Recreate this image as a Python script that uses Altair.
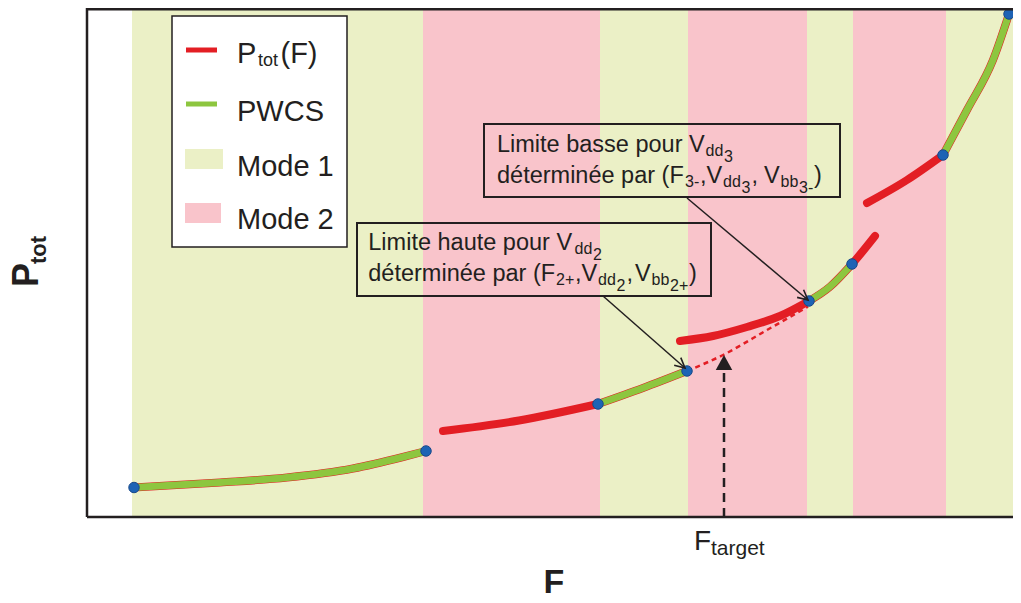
import altair as alt
import pandas as pd

# ---------------- data (arbitrary units) ----------------
F_MAX, P_MAX = 92.6, 50.9

band_start = [4.5, 33.6, 51.3, 60.1, 72.0, 76.6, 85.9]
band_end = [33.6, 51.3, 60.1, 72.0, 76.6, 85.9, 92.6]
band_mode = ["Mode 1", "Mode 2", "Mode 1", "Mode 2", "Mode 1", "Mode 2", "Mode 1"]

# breakpoints (blue dots)
dot_F = [4.7, 33.9, 51.1, 60.0, 72.2, 76.5, 85.6, 92.2]
dot_P = [2.95, 6.6, 11.3, 14.6, 21.6, 25.3, 36.2, 50.3]

# P_tot(F) segments (red)
ptot_seg = ["A"] * 6 + ["B"] * 3 + ["C"] * 3 + ["D"] * 5 + ["E"] * 4 + ["F"] * 3 + ["G"] * 4
ptot_F = [4.7, 13.3, 20.0, 26.6, 31.6, 33.9,
          35.6, 43.2, 51.1,
          51.1, 55.6, 60.0,
          59.3, 62.6, 66.0, 69.3, 72.2,
          72.2, 74.3, 76.5, 78.8,
          78.0, 82.0, 85.6,
          85.6, 88.0, 90.6, 92.2]
ptot_P = [2.95, 3.45, 3.95, 4.85, 6.0, 6.6,
          8.6, 9.65, 11.3,
          11.3, 12.9, 14.6,
          17.6, 18.1, 19.0, 20.1, 21.6,
          21.6, 23.03, 25.3, 28.1,
          31.4, 33.7, 36.2,
          36.2, 40.7, 45.7, 50.3]

# PWCS segments (green)
pwcs_seg = ["A"] * 6 + ["C"] * 3 + ["E"] * 3 + ["G"] * 4
pwcs_F = [4.7, 13.3, 20.0, 26.6, 31.6, 33.9,
          51.1, 55.6, 60.0,
          72.2, 74.3, 76.5,
          85.6, 88.0, 90.6, 92.2]
pwcs_P = [2.95, 3.45, 3.95, 4.85, 6.0, 6.6,
          11.3, 12.9, 14.6,
          21.6, 23.03, 25.3,
          36.2, 40.7, 45.7, 50.3]

# dashed extrapolation of mode-1 curve up to F_target region
ext_F = [60.0, 63.6, 68.0, 72.1]
ext_P = [14.6, 16.2, 18.7, 21.03]

F_target = 63.7
F_target_P = 16.2

# text fragments: F, P, text, font size
txt_F = [15.0, 17.1, 19.35, 15.0, 15.0, 15.0,
         41.0, 61.85, 63.7,
         41.0, 59.8, 61.3, 63.6, 65.45, 66.45, 67.7, 69.35, 71.2, 72.7,
         28.13, 48.75, 50.6,
         28.13, 46.9, 48.8, 51.1, 52.95, 53.95, 54.8, 56.45, 58.3, 60.2,
         60.7, 62.4]
txt_P = [45.37, 45.15, 45.37, 39.63, 34.1, 28.77,
         36.5, 36.1, 35.55,
         33.4, 33.0, 33.4, 33.0, 32.45, 33.4, 33.4, 33.0, 32.45, 33.4,
         26.67, 26.27, 25.7,
         23.57, 23.17, 23.57, 23.17, 22.6, 23.57, 23.57, 23.17, 22.6, 23.57,
         -3.3, -3.8]
txt_s = ["P", "tot", "(F)", "PWCS", "Mode 1", "Mode 2",
         "Limite basse pour V", "dd", "3",
         "déterminée par (F", "3-", ",V", "dd", "3", ",", "V", "bb", "3-", ")",
         "Limite haute pour V", "dd", "2",
         "déterminée par (F", "2+", ",V", "dd", "2", ",", "V", "bb", "2+", ")",
         "F", "target"]
txt_fs = [29, 18, 29, 29, 29, 29,
          23.5, 16, 16,
          23.5, 16, 23.5, 16, 16, 23.5, 23.5, 16, 16, 23.5,
          23.5, 16, 16,
          23.5, 16, 23.5, 16, 16, 23.5, 23.5, 16, 16, 23.5,
          28, 21]

# annotation boxes (F1, F2, P1, P2)
box_F1 = [39.7, 27.0]
box_F2 = [75.3, 62.4]
box_P1 = [39.3, 29.4]
box_P2 = [32.0, 22.1]

# annotation arrows (start -> tip)
arr_F1 = [60.0, 51.6]
arr_P1 = [31.9, 22.1]
arr_F2 = [72.1, 59.8]
arr_P2 = [21.7, 14.9]
arr_ang = [40.1, 41.3]

RED = "#E31E24"
GREEN = "#8DC63F"
BAND1 = "#EBF0C6"
BAND2 = "#F9C4CB"
BLUE = "#1D63B5"
DARK = "#231F20"
FONT = "Liberation Sans"

XS = alt.Scale(domain=[0, F_MAX], nice=False, zero=False)
YS = alt.Scale(domain=[0, P_MAX], nice=False, zero=False)


def X(f):
    return alt.X(f, type="quantitative", scale=XS, axis=None)


def Y(f):
    return alt.Y(f, type="quantitative", scale=YS, axis=None)


mode_color = alt.Color("mode:N", scale=alt.Scale(domain=["Mode 1", "Mode 2"], range=[BAND1, BAND2]), legend=None)

bands = alt.Chart(pd.DataFrame({"f1": band_start, "f2": band_end, "mode": band_mode})).mark_rect().encode(
    x=X("f1"), x2="f2", color=mode_color)

frame = alt.Chart(pd.DataFrame({"f1": [0, 0, 0], "f2": [0, F_MAX, F_MAX],
                                "p1": [0, 0, P_MAX - 0.12], "p2": [P_MAX, 0, P_MAX - 0.12]})).mark_rule(
    color=DARK, strokeWidth=2.5).encode(x=X("f1"), x2="f2", y=Y("p1"), y2="p2")

ext = alt.Chart(pd.DataFrame({"F": ext_F, "P": ext_P})).mark_line(
    color=RED, strokeWidth=2.5, strokeDash=[5, 4], interpolate="monotone").encode(x=X("F"), y=Y("P"))

ptot = alt.Chart(pd.DataFrame({"seg": ptot_seg, "F": ptot_F, "P": ptot_P})).mark_line(
    color=RED, strokeWidth=8, strokeCap="round", interpolate="monotone").encode(
    x=X("F"), y=Y("P"), detail="seg:N")

pwcs = alt.Chart(pd.DataFrame({"seg": pwcs_seg, "F": pwcs_F, "P": pwcs_P})).mark_line(
    color=GREEN, strokeWidth=7, interpolate="monotone").encode(
    x=X("F"), y=Y("P"), detail="seg:N")

tgt = pd.DataFrame({"F": [F_target], "p0": [0], "p1": [F_target_P - 1.2], "tip": [F_target_P], "ang": [270]})
tgt_line = alt.Chart(tgt).mark_rule(color=DARK, strokeWidth=2.5, strokeDash=[9, 6]).encode(
    x=X("F"), y=Y("p0"), y2="p1")
tgt_head = alt.Chart(tgt).mark_point(shape="M0,0L-1,-0.55L-1,0.55Z", filled=True, size=900,
                                     color=DARK, opacity=1).encode(
    x=X("F"), y=Y("tip"), angle=alt.Angle("ang:Q", scale=None))

dots = alt.Chart(pd.DataFrame({"F": dot_F, "P": dot_P})).mark_circle(
    size=110, color=BLUE, opacity=1, stroke="#1A4A8A", strokeWidth=1).encode(x=X("F"), y=Y("P"))

boxes = alt.Chart(pd.DataFrame({"f1": box_F1, "f2": box_F2, "p1": box_P1, "p2": box_P2})).mark_rect(
    fill=None, fillOpacity=0, stroke=DARK, strokeWidth=2).encode(x=X("f1"), x2="f2", y=Y("p1"), y2="p2")

arr_df = pd.DataFrame({"f1": arr_F1, "p1": arr_P1, "f2": arr_F2, "p2": arr_P2, "ang": arr_ang})
arrows = alt.Chart(arr_df).mark_rule(color=DARK, strokeWidth=1.5).encode(
    x=X("f1"), y=Y("p1"), x2="f2", y2="p2")
heads = alt.Chart(arr_df).mark_point(shape="M-1,-0.5L0,0L-1,0.5", filled=False, size=400,
                                     color=DARK, strokeWidth=1.6, opacity=1).encode(
    x=X("f2"), y=Y("p2"), angle=alt.Angle("ang:Q", scale=None))

# legend
leg_box = alt.Chart(pd.DataFrame({"f1": [8.5], "f2": [26.0], "p1": [50.1], "p2": [27.0]})).mark_rect(
    fill="white", stroke=DARK, strokeWidth=1.5).encode(x=X("f1"), x2="f2", y=Y("p1"), y2="p2")
leg_red = alt.Chart(pd.DataFrame({"f1": [9.9], "f2": [13.0], "p": [46.7]})).mark_rule(
    strokeWidth=5, color=RED).encode(x=X("f1"), x2="f2", y=Y("p"))
leg_green = alt.Chart(pd.DataFrame({"f1": [9.9], "f2": [13.0], "p": [41.3]})).mark_rule(
    strokeWidth=5, color=GREEN).encode(x=X("f1"), x2="f2", y=Y("p"))
leg_rects = alt.Chart(pd.DataFrame({"f1": [9.8, 9.8], "f2": [13.6, 13.4], "p1": [36.8, 31.4],
                                    "p2": [34.8, 29.4], "mode": ["Mode 1", "Mode 2"]})).mark_rect().encode(
    x=X("f1"), x2="f2", y=Y("p1"), y2="p2", color=mode_color)

texts = alt.Chart(pd.DataFrame({"F": txt_F, "P": txt_P, "t": txt_s, "fs": txt_fs})).mark_text(
    align="left", baseline="alphabetic", font=FONT, color=DARK).encode(
    x=X("F"), y=Y("P"), text="t:N", size=alt.Size("fs:Q", scale=None))

xtitle = alt.Chart(pd.DataFrame({"F": [46.7], "P": [-7.6], "t": ["F"]})).mark_text(
    align="center", baseline="alphabetic", font=FONT, fontWeight="bold", fontSize=34, color=DARK).encode(
    x=X("F"), y=Y("P"), text="t:N")

ytitle = alt.Chart(pd.DataFrame({"F": [-4.9, -4.1], "P": [23.0, 25.3], "t": ["P", "tot"], "fs": [36, 22]})).mark_text(
    align="left", baseline="alphabetic", font=FONT, fontWeight="bold", angle=270, color=DARK).encode(
    x=X("F"), y=Y("P"), text="t:N", size=alt.Size("fs:Q", scale=None))

chart = alt.layer(
    bands, ext, ptot, pwcs, tgt_line, tgt_head, dots, boxes, arrows, heads,
    leg_box, leg_red, leg_green, leg_rects, texts, xtitle, ytitle, frame
).properties(
    width=926, height=509,
    padding={"left": 79, "top": 0, "right": 0, "bottom": 78},
    autosize="none",
).configure_view(stroke=None)

chart.save("out.html", embed_options={"renderer": "svg", "actions": False})
